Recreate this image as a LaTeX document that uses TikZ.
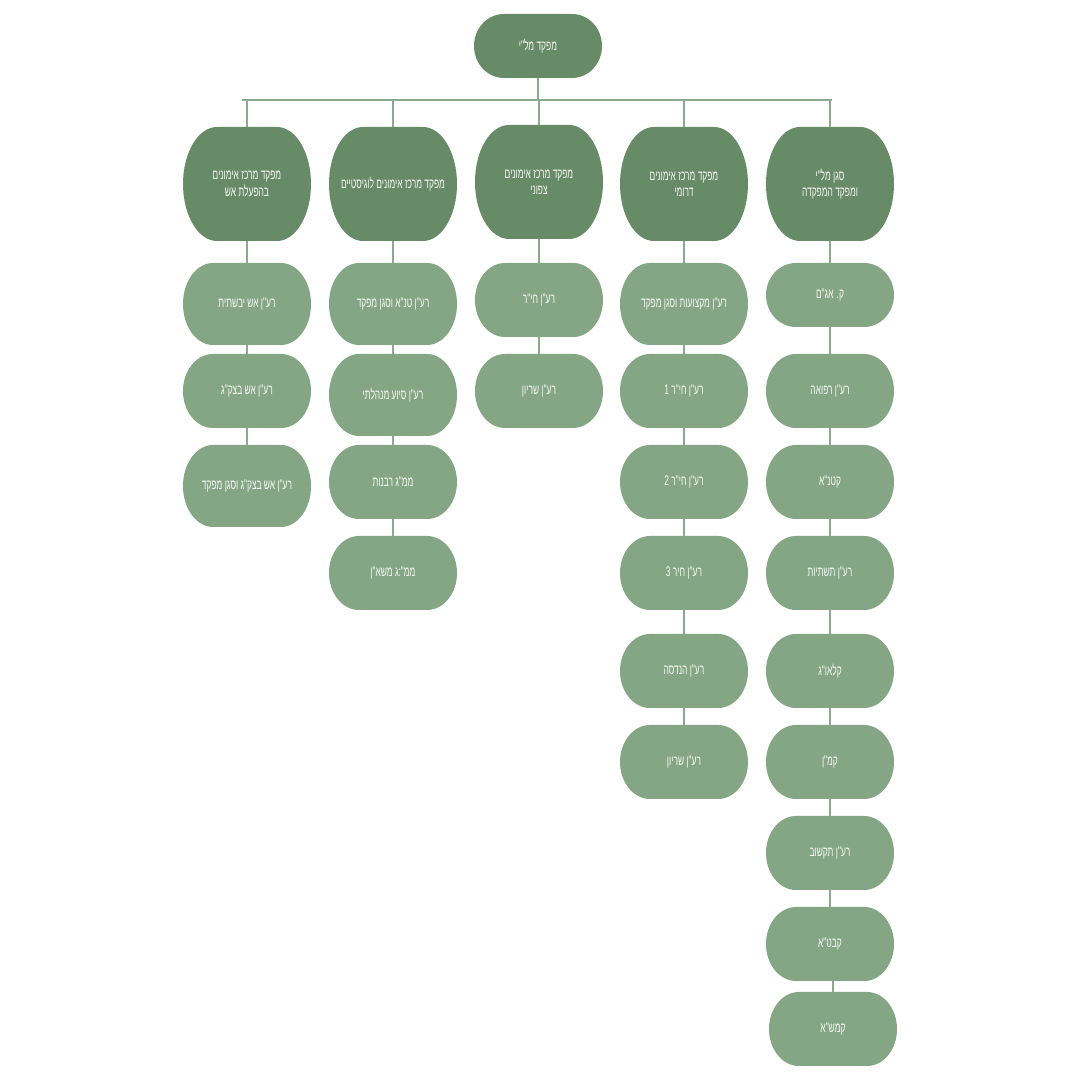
\documentclass[tikz,border=0pt]{standalone}
\usepackage{fontspec}
\TeXXeTstate=1
\newfontfamily\hebfont[Script=Hebrew,FakeStretch=0.6]{Liberation Sans}
\definecolor{darkg}{HTML}{678A67}
\definecolor{lightg}{HTML}{84A684}
\definecolor{lineg}{HTML}{8BAA8B}
\definecolor{txtc}{HTML}{F7F9F7}
\newcommand\rtl[1]{\beginR #1\endR}
\tikzset{
  txt/.style={text=txtc, font=\hebfont\fontsize{14}{16.5}\selectfont, align=center, inner sep=0pt},
  link/.style={draw=lineg, line width=2pt}
}
% #1 name #2 x #3 y #4 w #5 h #6 rx #7 colour #8 text
\newcommand\pillbox[8]{%
  \fill[#7] (#2-#4/2+#6,#3-#5/2) -- (#2+#4/2-#6,#3-#5/2)
     arc[start angle=-90,end angle=90,x radius=#6,y radius=#5/2]
     -- (#2-#4/2+#6,#3+#5/2)
     arc[start angle=90,end angle=270,x radius=#6,y radius=#5/2] -- cycle;
  \node[txt,minimum width=#4,minimum height=#5] (#1) at (#2,#3) {#8};
}
\begin{document}
\begin{tikzpicture}[x=1pt,y=1pt]
\fill[white] (0,0) rectangle (1080,1080);
\useasboundingbox (0,0) rectangle (1080,1080);

\pillbox{top}{538}{1034}{128}{64}{30}{darkg}{\rtl{מפקד מל"י}}

\pillbox{c1}{247}{896}{128}{114}{34}{darkg}{\rtl{מפקד מרכז אימונים}\\\rtl{בהפעלת אש}}
\pillbox{c2}{393}{896}{128}{114}{34}{darkg}{\rtl{מפקד מרכז אימונים לוגיסטיים}}
\pillbox{c3}{539}{898}{128}{114}{34}{darkg}{\rtl{מפקד מרכז אימונים}\\\rtl{צפוני}}
\pillbox{c4}{684}{896}{128}{114}{34}{darkg}{\rtl{מפקד מרכז אימונים}\\\rtl{דרומי}}
\pillbox{c5}{830}{896}{128}{114}{34}{darkg}{\rtl{סגן מל"י}\\\rtl{ומפקד המפקדה}}

% column 1
\pillbox{a1}{247}{776}{128}{82}{30}{lightg}{\rtl{רע"ן אש יבשתית}}
\pillbox{a2}{247}{689}{128}{74}{30}{lightg}{\rtl{רע"ן אש בצק"ג}}
\pillbox{a3}{247}{594}{128}{82}{30}{lightg}{\rtl{רע"ן אש בצק"ג וסגן מפקד}}
% column 2
\pillbox{b1}{393}{776}{128}{82}{30}{lightg}{\rtl{רע"ן טנ"א וסגן מפקד}}
\pillbox{b2}{393}{685}{128}{82}{30}{lightg}{\rtl{רע"ן סיוע מנהלתי}}
\pillbox{b3}{393}{598}{128}{74}{30}{lightg}{\rtl{ממ"ג רבנות}}
\pillbox{b4}{393}{507}{128}{74}{30}{lightg}{\rtl{ממ":ג משא"ן}}
% column 3
\pillbox{d1}{539}{780}{128}{74}{30}{lightg}{\rtl{רע"ן חי"ר}}
\pillbox{d2}{539}{689}{128}{74}{30}{lightg}{\rtl{רע"ן שריון}}
% column 4
\pillbox{e1}{684}{776}{128}{82}{30}{lightg}{\rtl{רע"ן מקצועות וסגן מפקד}}
\pillbox{e2}{684}{689}{128}{74}{30}{lightg}{\rtl{רע"ן חי"ר 1}}
\pillbox{e3}{684}{598}{128}{74}{30}{lightg}{\rtl{רע"ן חי"ר 2}}
\pillbox{e4}{684}{507}{128}{74}{30}{lightg}{\rtl{רע"ן חיר 3}}
\pillbox{e5}{684}{409}{128}{74}{30}{lightg}{\rtl{רע"ן הנדסה}}
\pillbox{e6}{684}{318}{128}{74}{30}{lightg}{\rtl{רע"ן שריון}}
% column 5
\pillbox{f1}{830}{785}{128}{64}{30}{lightg}{\rtl{ק. אג"ם}}
\pillbox{f2}{830}{689}{128}{74}{30}{lightg}{\rtl{רע"ן רפואה}}
\pillbox{f3}{830}{598}{128}{74}{30}{lightg}{\rtl{קטנ"א}}
\pillbox{f4}{830}{507}{128}{74}{30}{lightg}{\rtl{רע"ן תשתיות}}
\pillbox{f5}{830}{409}{128}{74}{30}{lightg}{\rtl{קלאו"ג}}
\pillbox{f6}{830}{318}{128}{74}{30}{lightg}{\rtl{קמ"ן}}
\pillbox{f7}{830}{227}{128}{74}{30}{lightg}{\rtl{רע"ן תקשוב}}
\pillbox{f8}{830}{136}{128}{74}{30}{lightg}{\rtl{קבט"א}}
\pillbox{f9}{833}{51}{128}{74}{30}{lightg}{\rtl{קמש"א}}

% connectors
\coordinate (barL) at (242,980);
\coordinate (barR) at (832,980);
\draw[link] (top.south) -- (top.south |- barL);
\draw[link] (barL) -- (barR);
\foreach \c in {c1,c2,c3,c4,c5}{
  \draw[link] (\c.north) -- (\c.north |- barL);
}
\draw[link] (c1.south) -- (a1.north);
\draw[link] (a1.south) -- (a2.north);
\draw[link] (a2.south) -- (a3.north);
\draw[link] (c2.south) -- (b1.north);
\draw[link] (b1.south) -- (b2.north);
\draw[link] (b2.south) -- (b3.north);
\draw[link] (b3.south) -- (b4.north);
\draw[link] (c3.south) -- (d1.north);
\draw[link] (d1.south) -- (d2.north);
\draw[link] (c4.south) -- (e1.north);
\draw[link] (e1.south) -- (e2.north);
\draw[link] (e2.south) -- (e3.north);
\draw[link] (e3.south) -- (e4.north);
\draw[link] (e4.south) -- (e5.north);
\draw[link] (e5.south) -- (e6.north);
\draw[link] (c5.south) -- (f1.north);
\draw[link] (f1.south) -- (f2.north);
\draw[link] (f2.south) -- (f3.north);
\draw[link] (f3.south) -- (f4.north);
\draw[link] (f4.south) -- (f5.north);
\draw[link] (f5.south) -- (f6.north);
\draw[link] (f6.south) -- (f7.north);
\draw[link] (f7.south) -- (f8.north);
\draw[link] (f9.north) -- (f9.north |- f8.south);
\end{tikzpicture}
\end{document}
